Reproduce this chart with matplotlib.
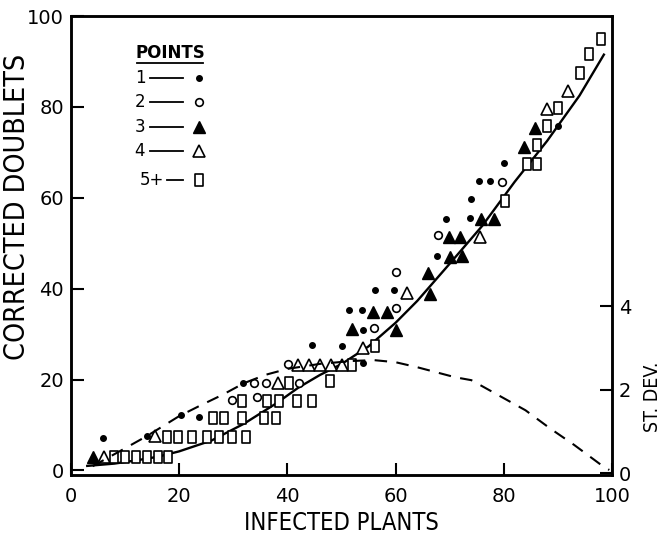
import matplotlib.pyplot as plt
from matplotlib.path import Path

# fitted curve (corrected doublets) and standard deviation curve
fit_x = [3, 8, 12, 16, 20, 26, 32, 38, 42, 46, 50, 55, 60, 64, 70, 76, 82, 88, 94, 98.5]
fit_y = [1.0, 1.5, 2.2, 3.0, 4.2, 6.6, 10.3, 14.8, 18.2, 21.0, 23.4, 27.3, 32.5, 37.3, 45.5, 53.8, 63.5, 72.5, 82.5, 91.5]

sd_x = [4, 10, 14, 20, 24, 28, 32, 36, 40, 46, 52, 56, 60, 64, 71, 74, 79, 84, 88.5, 93, 98, 99.5]
sd_y = [0.17, 0.60, 0.89, 1.37, 1.63, 1.88, 2.16, 2.36, 2.50, 2.62, 2.69, 2.71, 2.66, 2.54,
        2.30, 2.23, 1.87, 1.51, 1.08, 0.68, 0.20, 0.08]

# points: 1
p1_x = [6.0, 14.1, 20.3, 23.7, 31.8, 44.5, 50.0, 54.0, 51.4, 53.7, 54.0, 56.2, 59.7, 67.6,
        69.4, 73.8, 74.0, 75.5, 77.4, 80.0, 90.0]
p1_y = [7.1, 7.5, 12.1, 11.8, 19.2, 27.7, 27.3, 23.6, 35.4, 35.4, 31.0, 39.7, 39.7, 47.2,
        55.3, 55.5, 59.7, 63.6, 63.6, 67.6, 75.9]
# points: 2
p2_x = [29.7, 34.3, 33.8, 36.1, 42.1, 40.2, 56.0, 60.1, 60.1, 67.9, 79.6]
p2_y = [15.5, 16.1, 19.2, 19.2, 19.2, 23.5, 31.3, 35.8, 43.6, 51.7, 63.4]
# points: 3
p3_x = [4.0, 51.9, 55.9, 58.5, 60.1, 66.4, 66.0, 70.1, 72.2, 69.9, 71.9, 75.8, 78.2, 83.8, 85.8]
p3_y = [3.0, 31.1, 34.8, 34.8, 31.0, 38.9, 43.4, 46.9, 47.1, 51.3, 51.3, 55.3, 55.3, 71.2, 75.3]
# points: 4
p4_x = [6.1, 15.6, 38.2, 42.0, 44.0, 46.0, 48.0, 50.1, 53.9, 62.1, 75.6, 87.9, 91.8]
p4_y = [2.9, 7.6, 19.2, 23.2, 23.2, 23.2, 23.2, 23.2, 26.9, 39.1, 51.3, 79.5, 83.6]
# points: 5+
p5_x = [8.0, 10.0, 12.0, 14.0, 16.0, 17.9,
        17.7, 19.8, 22.3, 25.1, 27.4, 29.8, 32.3,
        26.2, 28.2, 31.6, 35.7, 37.9,
        31.6, 36.3, 38.5, 41.8, 44.5,
        40.3, 47.9, 51.9, 56.2,
        80.2, 84.2, 86.1, 86.1, 88.0, 90.1, 94.1, 95.8, 98.0]
p5_y = [3.0, 3.0, 3.0, 3.0, 3.0, 3.0,
        7.4, 7.4, 7.4, 7.4, 7.4, 7.4, 7.4,
        11.5, 11.5, 11.5, 11.5, 11.5,
        15.3, 15.3, 15.3, 15.3, 15.3,
        19.2, 19.6, 23.2, 27.3,
        59.3, 67.5, 67.5, 71.6, 75.7, 79.8, 87.4, 91.6, 95.0]

x_ticks = [0, 20, 40, 60, 80, 100]
y_ticks = [0, 20, 40, 60, 80, 100]
sd_ticks = [0, 2, 4]

plt.rcParams['font.family'] = ['DejaVu Sans']

# tall narrow box marker used for the "5+" points
rect = Path([(-0.36, -0.5), (0.36, -0.5), (0.36, 0.5), (-0.36, 0.5), (-0.36, -0.5)],
            [Path.MOVETO, Path.LINETO, Path.LINETO, Path.LINETO, Path.CLOSEPOLY])

st1 = dict(marker='o', ms=4, color='black')
st2 = dict(marker='o', ms=5.5, mfc='white', mec='black', mew=1.2)
st3 = dict(marker='^', ms=8, color='black')
st4 = dict(marker='^', ms=8, mfc='white', mec='black', mew=1.2)
st5 = dict(marker=rect, ms=8, mfc='white', mec='black', mew=1.2)

fig = plt.figure(figsize=(6.65, 5.37), dpi=100)
ax = fig.add_axes([0.1068, 0.1155, 0.8135, 0.8547])
ax2 = ax.twinx()

ax.plot(fit_x, fit_y, color='black', lw=1.7, zorder=2)
ax2.plot(sd_x, sd_y, color='black', lw=1.5, linestyle=(0, (6, 4.5)), zorder=2)

ax.plot(p1_x, p1_y, ls='none', zorder=3, **st1)
ax.plot(p2_x, p2_y, ls='none', zorder=3, **st2)
ax.plot(p3_x, p3_y, ls='none', zorder=3, **st3)
ax.plot(p4_x, p4_y, ls='none', zorder=3, **st4)
ax.plot(p5_x, p5_y, ls='none', zorder=3, **st5)

ax.set_xlim(0, 100)
ax.set_ylim(-1, 100)
ax2.set_ylim(-0.04, 10.95)

ax.set_xticks(x_ticks)
ax.set_yticks(y_ticks)
ax2.set_yticks(sd_ticks)

for a in (ax, ax2):
    for s in a.spines.values():
        s.set_linewidth(1.8)
ax.tick_params(axis='both', direction='in', length=9, width=1.5, labelsize=14, pad=9)
ax.tick_params(axis='y', left=True, right=False, pad=5)
ax2.tick_params(axis='y', direction='in', length=9, width=1.5, labelsize=14, pad=5)

ax.set_xlabel('INFECTED PLANTS', fontsize=17, fontstretch='condensed', labelpad=3)
ax.set_ylabel('CORRECTED DOUBLETS', fontsize=20.5, fontstretch='condensed')
ax.yaxis.set_label_coords(-0.074, 0.585)
ax2.set_ylabel('ST. DEV.', fontsize=14, fontstretch='condensed')
ax2.yaxis.set_label_coords(1.057, 0.17)

# hand-drawn style key in the upper left
tr = ax.transAxes
ax.text(0.183, 0.919, 'POINTS', transform=tr, ha='center', va='center', fontsize=12, fontweight='bold')
ax.plot([0.122, 0.244], [0.898, 0.898], transform=tr, color='black', lw=1.3)
rows = [0.865, 0.813, 0.758, 0.706, 0.643]
names = ['1', '2', '3', '4', '5+']
for yy, nm, st in zip(rows, names, [st1, st2, st3, st4, st5]):
    nx = 0.150 if nm == '5+' else 0.1275
    x0 = 0.177 if nm == '5+' else 0.146
    ax.text(nx, yy, nm, transform=tr, ha='center', va='center', fontsize=12)
    ax.plot([x0, 0.207], [yy, yy], transform=tr, color='black', lw=1.3)
    ax.plot([0.237], [yy], transform=tr, ls='none', **st)

fig.savefig('out.png', dpi=100)
